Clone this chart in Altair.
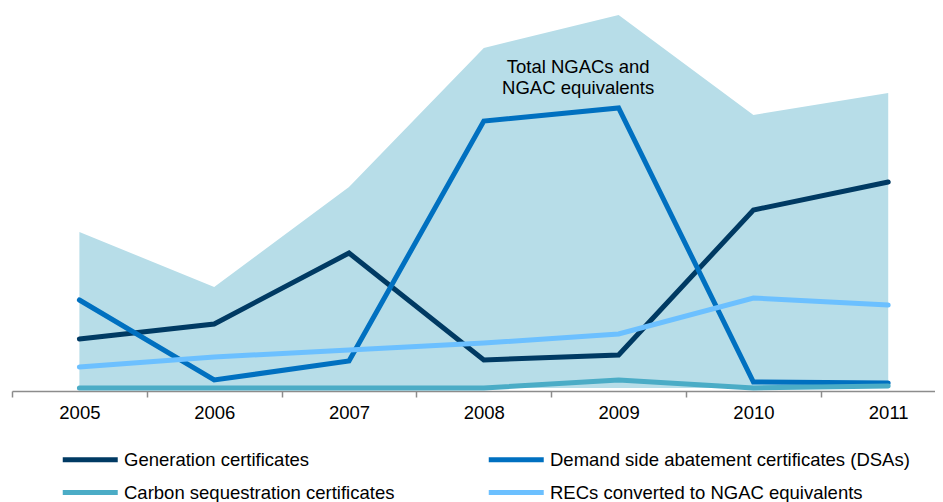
import altair as alt
import pandas as pd

years = [2005, 2006, 2007, 2008, 2009, 2010, 2011]
total = [156, 101, 201, 340, 373, 273, 295]
generation = [49, 64, 135, 28, 33, 178, 206]
dsa = [88, 8, 27, 267, 280, 6, 5]
carbon = [0, 0, 0, 0, 8, 0, 2]
recs = [21, 31, 38, 45, 54, 90, 83]

series_names = [
    "Generation certificates",
    "Demand side abatement certificates (DSAs)",
    "Carbon sequestration certificates",
    "RECs converted to NGAC equivalents",
]
series_values = [generation, dsa, carbon, recs]
series_colors = ["#003A63", "#0070C0", "#4BACC6", "#6CC0FF"]
area_color = "#B7DDE8"
annotation = ["Total NGACs and", "NGAC equivalents"]

rows = []
for k, (name, vals) in enumerate(zip(series_names, series_values)):
    for y, v in zip(years, vals):
        rows.append({"year": y, "value": v, "series": name, "order": k})
df_lines = pd.DataFrame(rows)
df_total = pd.DataFrame({"year": years, "value": total})

tick_years = [y - 0.5 for y in years]
x_domain = [2004.5, 2011.347]
px_per_year = 923 / (x_domain[1] - x_domain[0])

FONT = "Liberation Sans"
FS = 18.5

x_enc = alt.X(
    "year:Q",
    scale=alt.Scale(domain=x_domain, nice=False, zero=False),
    axis=alt.Axis(
        values=tick_years,
        labelExpr="format(datum.value + 0.5, 'd')",
        labelOffset=px_per_year / 2,
        labelFlush=False,
        labelOverlap=False,
        labelBound=False,
        tickSize=6,
        tickWidth=1.5,
        tickColor="#8C8C8C",
        domainColor="#8C8C8C",
        domainWidth=1.5,
        labelFontSize=FS,
        labelFont=FONT,
        labelColor="#000000",
        labelPadding=6,
        grid=False,
        title=None,
    ),
)
y_scale = alt.Scale(domain=[-3, 380], nice=False, zero=False)

area = alt.Chart(df_total).mark_area(color=area_color, opacity=1).encode(
    x=x_enc,
    y=alt.Y("value:Q", scale=y_scale, axis=None),
    y2=alt.datum(0),
)

lines = alt.Chart(df_lines).mark_line(strokeWidth=5, strokeCap="round", strokeJoin="miter").encode(
    x=x_enc,
    y=alt.Y("value:Q", scale=y_scale, axis=None),
    color=alt.Color(
        "series:N",
        scale=alt.Scale(domain=series_names, range=series_colors),
        sort=series_names,
        legend=alt.Legend(
            title=None,
            orient="none",
            direction="horizontal",
            legendX=48,
            legendY=435,
            columns=2,
            columnPadding=83,
            rowPadding=6,
            symbolType="M-1,0H3",
            symbolSize=756,
            symbolStrokeWidth=5,
            labelFontSize=FS,
            labelFont=FONT,
            labelColor="#000000",
            labelOffset=31,
            labelLimit=600,
        ),
    ),
    order="order:Q",
)

text = alt.Chart(pd.DataFrame({"a": [0]})).mark_text(
    text=annotation,
    font=FONT,
    fontSize=FS,
    lineHeight=21,
    color="#000000",
    align="center",
    baseline="middle",
).encode(
    x=alt.datum(2008.7),
    y=alt.datum(321),
)

chart = (
    alt.layer(area, lines, text)
    .properties(
        width=923,
        height=383,
        padding={"left": 4, "top": 0, "right": 0, "bottom": 112},
        autosize=alt.AutoSizeParams(type="none"),
    )
    .configure_view(stroke=None)
)

chart.save("out.html", embed_options={"renderer": "svg", "actions": False})
